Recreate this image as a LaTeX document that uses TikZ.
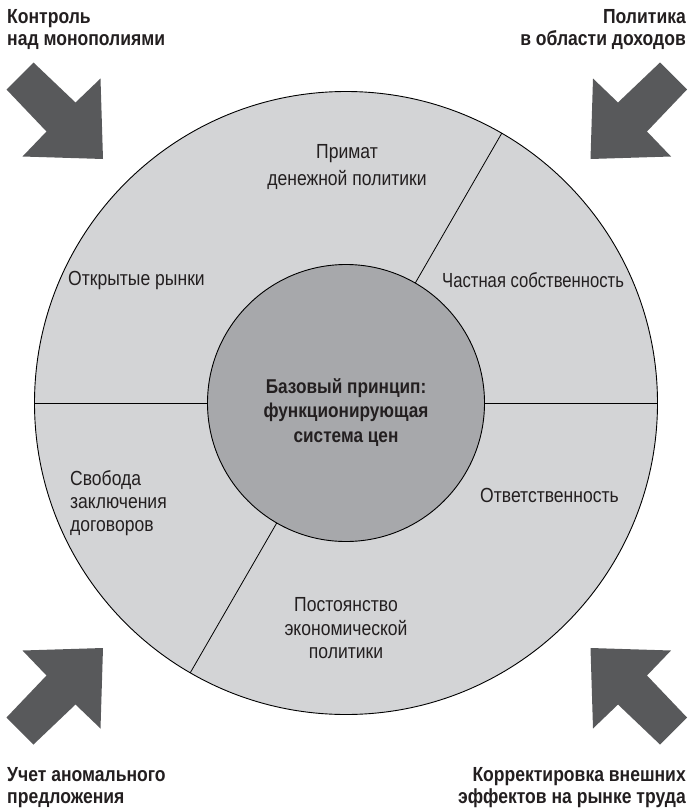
\documentclass[tikz,border=0pt]{standalone}
\usepackage{fontspec}
\setmainfont{Liberation Sans}[FakeStretch=0.86]
\definecolor{outergray}{HTML}{D3D4D6}
\definecolor{innergray}{HTML}{A7A8AB}
\definecolor{arrowgray}{HTML}{58595B}
\definecolor{inkc}{HTML}{231F20}
\tikzset{
  bigarrow/.pic={\fill[arrowgray] (0,0) -- (-2.5,-80.5) -- (-27.5,-56.5) -- (-69.5,-96.5) -- (-96.5,-69.5) -- (-56.5,-27.5) -- (-80.5,-2.5) -- cycle;},
  ring/.style={circle, draw=black, line width=0.9pt, inner sep=0pt, outer sep=0pt},
  divider/.style={draw=black, line width=0.8pt},
  lbl/.style={text=inkc, inner sep=0pt, font=\fontsize{20.4}{23.3}\selectfont},
  blbl/.style={text=inkc, inner sep=0pt, font=\bfseries\fontsize{20.4}{21.5}\selectfont},
}
\begin{document}
\begin{tikzpicture}[x=1pt,y=-1pt]
\useasboundingbox (0,0) rectangle (690,811);
\node[ring, fill=outergray, minimum size=623pt] (outer) at (346,403) {};
\draw[divider] (outer.west) -- (outer.east);
\draw[divider] (outer.60) -- (outer.center);
\draw[divider] (outer.240) -- (outer.center);
\node[ring, fill=innergray, minimum size=277pt] (inner) at (346,403) {};
\pic (atl) at (103,159) {bigarrow};
\pic[xscale=-1] (atr) at (590.5,159) {bigarrow};
\pic[yscale=-1] (abl) at (103,648) {bigarrow};
\pic[xscale=-1,yscale=-1] (abr) at (590.5,648) {bigarrow};
\node[blbl, align=left, anchor=base west] (ltl) at (7,45) {Контроль\\над монополиями};
\node[blbl, align=right, anchor=base east] (ltr) at (686,45) {Политика\\в области доходов};
\node[blbl, align=left, anchor=base west] (lbl) at (7,803) {Учет аномального\\предложения};
\node[blbl, align=right, anchor=base east] (lbr) at (686,803) {Корректировка внешних\\эффектов на рынке труда};
\node[blbl, align=center, anchor=base, font=\bfseries\fontsize{20}{24.5}\selectfont] (core) at (346,442) {Базовый принцип:\\функционирующая\\система цен};
\node[lbl, align=center, anchor=base, font=\fontsize{20.4}{26.5}\selectfont] (s1) at (347,185) {Примат\\денежной политики};
\node[lbl, anchor=base west] (s2) at (68,285) {Открытые рынки};
\node[lbl, anchor=base west, xscale=0.95] (s3) at (442,287) {Частная собственность};
\node[lbl, align=left, anchor=base west] (s4) at (70,531.7) {Свобода\\заключения\\договоров};
\node[lbl, anchor=base west] (s5) at (480,502) {Ответственность};
\node[lbl, align=center, anchor=base] (s6) at (346,658.3) {Постоянство\\экономической\\политики};
\end{tikzpicture}
\end{document}
